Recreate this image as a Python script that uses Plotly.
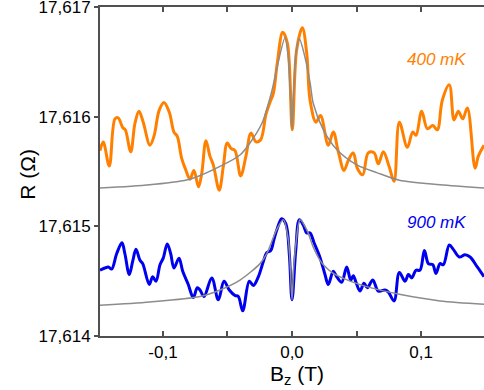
import plotly.graph_objects as go

# ---- data ----
b_400 = [-0.1488, -0.1463, -0.1416, -0.1372, -0.1347, -0.1312, -0.1292, -0.1250, -0.1217, -0.1186,
         -0.1153, -0.1101, -0.1070, -0.1029, -0.0992, -0.0951, -0.0915, -0.0889, -0.0855, -0.0822,
         -0.0791, -0.0760, -0.0725, -0.0700, -0.0667, -0.0636, -0.0610, -0.0564, -0.0533, -0.0502,
         -0.0473, -0.0442, -0.0398, -0.0357, -0.0318, -0.0279, -0.0243, -0.0202, -0.0171, -0.0145,
         -0.0114, -0.0072, -0.0036, 0.0002, 0.0036, 0.0080, 0.0114, 0.0140, 0.0186, 0.0221,
         0.0281, 0.0320, 0.0359, 0.0403, 0.0436, 0.0475, 0.0506, 0.0548, 0.0591, 0.0636,
         0.0669, 0.0708, 0.0754, 0.0791, 0.0832, 0.0894, 0.0936, 0.0961, 0.1005, 0.1049,
         0.1091, 0.1126, 0.1165, 0.1219, 0.1256, 0.1289, 0.1323, 0.1359, 0.1419, 0.1444, 0.1488]
r_400 = [17.61569, 17.61577, 17.61555, 17.61598, 17.61599, 17.61590, 17.61588, 17.61568, 17.61594, 17.61605,
         17.61595, 17.61574, 17.61582, 17.61606, 17.61613, 17.61604, 17.61586, 17.61582, 17.61562, 17.61551,
         17.61543, 17.61551, 17.61536, 17.61548, 17.61578, 17.61564, 17.61556, 17.61533, 17.61554, 17.61576,
         17.61571, 17.61569, 17.61546, 17.61564, 17.61585, 17.61577, 17.61579, 17.61602, 17.61613, 17.61621,
         17.61649, 17.61677, 17.61667, 17.61588, 17.61661, 17.61681, 17.61658, 17.61615, 17.61595, 17.61601,
         17.61574, 17.61586, 17.61568, 17.61551, 17.61560, 17.61567, 17.61553, 17.61547, 17.61567, 17.61567,
         17.61557, 17.61568, 17.61554, 17.61541, 17.61595, 17.61572, 17.61586, 17.61583, 17.61605, 17.61589,
         17.61592, 17.61588, 17.61615, 17.61629, 17.61597, 17.61605, 17.61598, 17.61608, 17.61553, 17.61564, 17.61574]

b_900 = [-0.1488, -0.1450, -0.1424, -0.1398, -0.1359, -0.1318, -0.1295, -0.1261, -0.1235, -0.1209,
         -0.1178, -0.1157, -0.1106, -0.1080, -0.1054, -0.1023, -0.0998, -0.0967, -0.0940, -0.0915,
         -0.0876, -0.0847, -0.0804, -0.0765, -0.0734, -0.0713, -0.0682, -0.0622, -0.0571, -0.0527,
         -0.0486, -0.0442, -0.0416, -0.0382, -0.0331, -0.0300, -0.0261, -0.0222, -0.0196, -0.0165,
         -0.0140, -0.0114, -0.0080, -0.0047, -0.0021, 0.0000, 0.0029, 0.0057, 0.0088, 0.0114,
         0.0140, 0.0171, 0.0213, 0.0256, 0.0281, 0.0320, 0.0347, 0.0385, 0.0424, 0.0455,
         0.0475, 0.0496, 0.0527, 0.0558, 0.0584, 0.0626, 0.0669, 0.0721, 0.0747, 0.0791,
         0.0832, 0.0876, 0.0902, 0.0928, 0.0961, 0.0992, 0.1026, 0.1057, 0.1091, 0.1116,
         0.1147, 0.1173, 0.1219, 0.1250, 0.1297, 0.1341, 0.1380, 0.1436, 0.1488]
r_900 = [17.61460, 17.61462, 17.61463, 17.61461, 17.61475, 17.61485, 17.61475, 17.61456, 17.61468, 17.61479,
         17.61469, 17.61466, 17.61447, 17.61454, 17.61450, 17.61465, 17.61471, 17.61484, 17.61475, 17.61462,
         17.61471, 17.61459, 17.61447, 17.61435, 17.61444, 17.61442, 17.61436, 17.61453, 17.61433, 17.61450,
         17.61442, 17.61437, 17.61436, 17.61423, 17.61450, 17.61446, 17.61454, 17.61468, 17.61476, 17.61478,
         17.61488, 17.61498, 17.61507, 17.61502, 17.61475, 17.61433, 17.61478, 17.61506, 17.61501, 17.61494,
         17.61494, 17.61485, 17.61473, 17.61456, 17.61447, 17.61459, 17.61454, 17.61449, 17.61463, 17.61451,
         17.61455, 17.61449, 17.61441, 17.61448, 17.61444, 17.61451, 17.61441, 17.61442, 17.61440, 17.61432,
         17.61458, 17.61450, 17.61456, 17.61453, 17.61460, 17.61460, 17.61478, 17.61466, 17.61465, 17.61457,
         17.61466, 17.61465, 17.61483, 17.61479, 17.61472, 17.61474, 17.61472, 17.61463, 17.61454]

b_fit400 = [-0.1488, -0.1101, -0.0791, -0.0535, -0.0403, -0.0326, -0.0233, -0.0155, -0.0116, -0.0054,
            -0.0029, -0.0013, 0.0000, 0.0012, 0.0031, 0.0057, 0.0101, 0.0140, 0.0165, 0.0243,
            0.0347, 0.0502, 0.0657, 0.0832, 0.1147, 0.1488]
r_fit400 = [17.61535, 17.61538, 17.61543, 17.61556, 17.61565, 17.61576, 17.61594, 17.61624, 17.61645, 17.61672,
            17.61654, 17.61620, 17.61588, 17.61620, 17.61658, 17.61671, 17.61654, 17.61631, 17.61612, 17.61588,
            17.61570, 17.61556, 17.61549, 17.61542, 17.61538, 17.61535]

b_fit900 = [-0.1488, -0.1101, -0.0713, -0.0558, -0.0403, -0.0248, -0.0196, -0.0119, -0.0067, -0.0029,
            -0.0013, 0.0000, 0.0013, 0.0031, 0.0062, 0.0114, 0.0165, 0.0217, 0.0243, 0.0320,
            0.0450, 0.0579, 0.0832, 0.1147, 0.1488]
r_fit900 = [17.61428, 17.61431, 17.61436, 17.61442, 17.61451, 17.61466, 17.61475, 17.61497, 17.61506, 17.61488,
            17.61462, 17.61433, 17.61462, 17.61485, 17.61506, 17.61497, 17.61481, 17.61469, 17.61465, 17.61457,
            17.61450, 17.61445, 17.61438, 17.61432, 17.61429]

x_tickvals = [-0.1, 0.0, 0.1]
x_ticktext = ["-0,1", "0,0", "0,1"]
y_tickvals = [17.614, 17.615, 17.616, 17.617]
y_ticktext = ["17,614", "17,615", "17,616", "17,617"]

ORANGE = "#FF8000"
BLUE = "#0000F0"
GRAY = "#8C8C8C"
AXIS = "#505050"
FONT = "Liberation Sans, Arial, sans-serif"

fig = go.Figure()
fig.add_trace(go.Scatter(x=b_400, y=r_400, mode="lines",
                         line=dict(color=ORANGE, width=3, shape="spline", smoothing=1.0)))
fig.add_trace(go.Scatter(x=b_900, y=r_900, mode="lines",
                         line=dict(color=BLUE, width=3, shape="spline", smoothing=1.0)))
fig.add_trace(go.Scatter(x=b_fit400, y=r_fit400, mode="lines",
                         line=dict(color=GRAY, width=1.5, shape="spline", smoothing=0.8)))
fig.add_trace(go.Scatter(x=b_fit900, y=r_fit900, mode="lines",
                         line=dict(color=GRAY, width=1.5, shape="spline", smoothing=0.8)))

fig.add_annotation(x=0.875, y=0.839, xref="paper", yref="paper", text="<i>400 mK</i>",
                   xanchor="center", yanchor="middle",
                   showarrow=False, font=dict(color=ORANGE, size=17, family=FONT))
fig.add_annotation(x=0.875, y=0.3465, xref="paper", yref="paper", text="<i>900 mK</i>",
                   xanchor="center", yanchor="middle",
                   showarrow=False, font=dict(color=BLUE, size=17, family=FONT))
# axis titles
fig.add_annotation(x=0.514, y=-0.12, xref="paper", yref="paper", text="B<sub>z</sub> (T)",
                   xanchor="center", yanchor="middle",
                   showarrow=False, font=dict(color="black", size=21, family=FONT))
fig.add_annotation(x=-0.1875, y=0.49, xref="paper", yref="paper", text="R (Ω)",
                   textangle=-90, xanchor="center", yanchor="middle",
                   showarrow=False, font=dict(color="black", size=21, family=FONT))

fig.update_layout(
    width=484, height=390,
    margin=dict(l=100, r=0, t=7, b=54),
    paper_bgcolor="white", plot_bgcolor="white",
    showlegend=False,
    font=dict(family=FONT, color="black", size=17),
)
fig.update_xaxes(range=[-0.1488, 0.1488], tickvals=x_tickvals, ticktext=x_ticktext,
                 ticks="inside", ticklen=5, tickwidth=1.5, tickcolor=AXIS,
                 minor=dict(tick0=0, dtick=0.05, ticks="inside", ticklen=5,
                            tickwidth=1.5, tickcolor=AXIS),
                 showline=True, linewidth=2, linecolor=AXIS, mirror="ticks",
                 showgrid=False, zeroline=False, automargin=False,
                 tickfont=dict(size=17, color="black"))
fig.update_yaxes(range=[17.614 - 1e-9, 17.617 + 1e-9], tickvals=y_tickvals, ticktext=y_ticktext,
                 ticks="outside", ticklen=4, tickwidth=1.5, tickcolor=AXIS,
                 showline=True, linewidth=2, linecolor=AXIS,
                 showgrid=False, zeroline=False, automargin=False,
                 ticklabeloverflow="allow",
                 tickfont=dict(size=17, color="black"))

fig.write_html("out.html", config={"displayModeBar": False},
               post_script="document.body.style.margin='0';document.body.style.overflow='hidden';")
